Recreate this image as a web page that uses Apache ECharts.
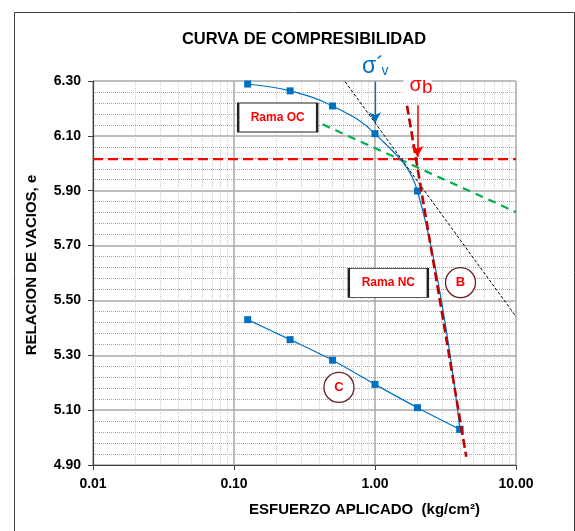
<!DOCTYPE html>
<html>
<head>
<meta charset="utf-8">
<script src="https://cdn.jsdelivr.net/npm/echarts@6/dist/echarts.min.js"></script>
<style>
  html, body { margin: 0; padding: 0; background: #fff; }
  #chart { width: 575px; height: 531px; }
</style>
</head>
<body>
<div id="chart"></div>
<script>
// Ensayo de consolidación: relación de vacíos vs esfuerzo aplicado (escala log)
const esfuerzoCarga = [0.125, 0.25, 0.5, 1, 2, 4];
const vaciosCarga = [6.289, 6.264, 6.209, 6.108, 5.899, 5.030];

const esfuerzoDescarga = [4, 2, 1, 0.5, 0.25, 0.125];
const vaciosDescarga = [5.030, 5.109, 5.194, 5.282, 5.357, 5.430];

// Construcción de Casagrande
const horizEsfuerzo = [0.01, 10];
const horizVacios = [6.015, 6.015];
const bisectrizEsfuerzo = [0.425, 10];
const bisectrizVacios = [6.142, 5.822];
const tangenteEsfuerzo = [0.615, 10];
const tangenteVacios = [6.297, 5.441];
const ramaNCEsfuerzo = [1.687, 4.437];
const ramaNCVacios = [6.210, 4.930];

// Flechas de esfuerzo de preconsolidación
const flechaSigmaV = { esfuerzo: 1, desde: 6.297, hasta: 6.146 };
const flechaSigmaB = { esfuerzo: 2, desde: 6.212, hasta: 6.023 };

// Rótulos
const circuloNombres = ['A', 'B', 'C'];
const circuloEsfuerzo = [0.425, 4.04, 0.555];
const circuloVacios = [6.307, 5.565, 5.183];
const cajaNombres = ['Rama OC', 'Rama NC'];
const cajaEsfuerzo = [0.204, 1.243];
const cajaVacios = [6.167, 5.564];

// Eje X: subdivisiones logarítmicas
const esfuerzoMenores = [0.02, 0.03, 0.04, 0.05, 0.06, 0.07, 0.08, 0.09,
                         0.2, 0.3, 0.4, 0.5, 0.6, 0.7, 0.8, 0.9,
                         2, 3, 4, 5, 6, 7, 8, 9];
const ejeEsfuerzo = { min: 0.01, max: 10 };
const ejeVacios = { min: 4.9, max: 6.3, paso: 0.2 };

const pares = (xs, ys) => xs.map((x, i) => [x, ys[i]]);
const FONT = 'Liberation Sans, Arial, sans-serif';
const AZUL = '#0070C0';

const chart = echarts.init(document.getElementById('chart'));

const lineaRecta = (name, xs, ys, style, z) => ({
  name, type: 'line', data: pares(xs, ys), symbol: 'none', z,
  silent: true, lineStyle: style
});

chart.setOption({
  animation: false,
  backgroundColor: '#fff',
  title: {
    text: 'CURVA DE COMPRESIBILIDAD',
    left: 299, top: 26, textAlign: 'center',
    textStyle: { fontFamily: FONT, fontSize: 16.5, fontWeight: 'bold', color: '#000' }
  },
  grid: { left: 93, right: 59, top: 81, bottom: 66 },
  xAxis: {
    type: 'log', logBase: 10, min: ejeEsfuerzo.min, max: ejeEsfuerzo.max,
    axisLine: { show: true, onZero: false, lineStyle: { color: '#404040', width: 1.2 } },
    axisTick: { show: true, length: 5, lineStyle: { color: '#404040' } },
    axisLabel: {
      formatter: v => Number(v).toFixed(2), margin: 12,
      fontFamily: FONT, fontSize: 14, fontWeight: 'bold', color: '#000'
    },
    splitLine: { show: true, lineStyle: { color: '#a8a8a8', width: 1.5 } },
    name: 'ESFUERZO APLICADO  (kg/cm²)', nameLocation: 'middle', nameGap: 37,
    nameTextStyle: { fontFamily: FONT, fontSize: 15, fontWeight: 'bold', color: '#000', padding: [0, 0, 0, 120] }
  },
  yAxis: {
    type: 'value', min: ejeVacios.min, max: ejeVacios.max, interval: ejeVacios.paso,
    axisLine: { show: true, lineStyle: { color: '#404040', width: 1.2 } },
    axisTick: { show: true, length: 5, lineStyle: { color: '#404040' } },
    axisLabel: {
      formatter: v => v.toFixed(2), margin: 12,
      fontFamily: FONT, fontSize: 14, fontWeight: 'bold', color: '#000'
    },
    splitLine: { show: true, lineStyle: { color: '#a8a8a8', width: 1.5 } },
    minorTick: { show: false, splitNumber: 5 },
    minorSplitLine: { show: true, lineStyle: { color: '#a4a4a4', width: 1, type: [1, 1] } },
    name: 'RELACION DE VACIOS, e', nameLocation: 'middle', nameGap: 54,
    nameTextStyle: { fontFamily: FONT, fontSize: 15, fontWeight: 'bold', color: '#000', padding: [0, 0, 0, 16] }
  },
  series: [
    {
      name: 'subdivisiones', type: 'line', data: [], z: 1, silent: true,
      markLine: {
        z: 1, silent: true, symbol: ['none', 'none'], label: { show: false },
        lineStyle: { color: '#cfcfcf', width: 1, type: [1, 1] },
        data: esfuerzoMenores.map(v => ({ xAxis: v }))
      }
    },
    lineaRecta('horizontal', horizEsfuerzo, horizVacios,
      { color: '#FF0000', width: 2.2, type: [10, 5] }, 3),
    lineaRecta('bisectriz', bisectrizEsfuerzo, bisectrizVacios,
      { color: '#00B050', width: 2.2, type: [8, 6] }, 3),
    lineaRecta('tangente', tangenteEsfuerzo, tangenteVacios,
      { color: '#000000', width: 1, type: [3, 2] }, 3),
    {
      name: 'carga', type: 'line', data: pares(esfuerzoCarga, vaciosCarga),
      smooth: 0.4, symbol: 'rect', symbolSize: 7, z: 4,
      lineStyle: { color: AZUL, width: 1.2 }, itemStyle: { color: AZUL }
    },
    {
      name: 'descarga', type: 'line', data: pares(esfuerzoDescarga, vaciosDescarga),
      smooth: 0.3, symbol: 'rect', symbolSize: 7, z: 4,
      lineStyle: { color: AZUL, width: 1.2 }, itemStyle: { color: AZUL }
    },
    lineaRecta('ramaNC', ramaNCEsfuerzo, ramaNCVacios,
      { color: '#C00000', width: 2.6, type: [9, 4] }, 5),
    {
      name: 'rotulos', type: 'line', data: [], z: 6, silent: true, clip: false,
      markLine: {
        z: 6, silent: true, symbol: ['none', 'arrow'], symbolSize: [9, 11], label: { show: false },
        data: [
          [{ coord: [flechaSigmaV.esfuerzo, flechaSigmaV.desde], lineStyle: { color: AZUL, width: 1.3, type: 'solid' } },
           { coord: [flechaSigmaV.esfuerzo, flechaSigmaV.hasta] }],
          [{ coord: [flechaSigmaB.esfuerzo, flechaSigmaB.desde], lineStyle: { color: '#FF0000', width: 1.5, type: 'solid' } },
           { coord: [flechaSigmaB.esfuerzo, flechaSigmaB.hasta] }]
        ]
      },
      markPoint: {
        z: 10, silent: true,
        data: [
          ...circuloNombres.map((n, i) => ({
            name: n, coord: [circuloEsfuerzo[i], circuloVacios[i]],
            symbol: 'circle', symbolSize: 30,
            itemStyle: { color: '#fff', borderColor: '#6b2020', borderWidth: 1.3 },
            label: { show: true, position: 'inside', formatter: n, color: '#FF0000',
              fontFamily: FONT, fontSize: 13, fontWeight: 'bold' }
          })),
          ...cajaNombres.map((n, i) => ({
            name: n, coord: [cajaEsfuerzo[i], cajaVacios[i]],
            symbol: 'rect', symbolSize: [79, 29],
            itemStyle: { color: '#fff', borderColor: '#222', borderWidth: 1.5 },
            label: { show: true, position: 'inside', formatter: n, color: '#FF0000',
              fontFamily: FONT, fontSize: 12, fontWeight: 'bold' }
          }))
        ]
      }
    }
  ]
});

// Símbolos σ'v y σb junto a sus flechas
const pV = chart.convertToPixel({ gridIndex: 0 }, [flechaSigmaV.esfuerzo, ejeVacios.max]);
const pB = chart.convertToPixel({ gridIndex: 0 }, [flechaSigmaB.esfuerzo, flechaSigmaB.desde]);
chart.setOption({
  graphic: [
    { type: 'rect', left: 12, top: 10, shape: { width: 560, height: 540 },
      style: { fill: 'none', stroke: '#404040', lineWidth: 1 }, silent: true, z: 0 },
    { type: 'rect', x: pB[0] - 14, y: pB[1] - 29, shape: { width: 28, height: 22 },
      style: { fill: '#fff' }, silent: true, z: 20 },
    { type: 'text', x: pV[0] - 13, y: pV[1] - 14.5, silent: true, z: 21,
      style: { text: 'σ´', fill: AZUL, font: '23px ' + FONT, align: 'left', verticalAlign: 'middle' } },
    { type: 'text', x: pV[0] + 6.5, y: pV[1] - 9.5, silent: true, z: 21,
      style: { text: 'v', fill: AZUL, font: '14px ' + FONT, align: 'left', verticalAlign: 'middle' } },
    { type: 'text', x: pB[0] - 8, y: pB[1] - 19.5, silent: true, z: 21,
      style: { text: 'σ', fill: '#FF0000', font: '20px ' + FONT, align: 'left', verticalAlign: 'middle' } },
    { type: 'text', x: pB[0] + 4.5, y: pB[1] - 17, silent: true, z: 21,
      style: { text: 'b', fill: '#FF0000', font: '19px ' + FONT, align: 'left', verticalAlign: 'middle' } }
  ]
});
</script>
</body>
</html>
